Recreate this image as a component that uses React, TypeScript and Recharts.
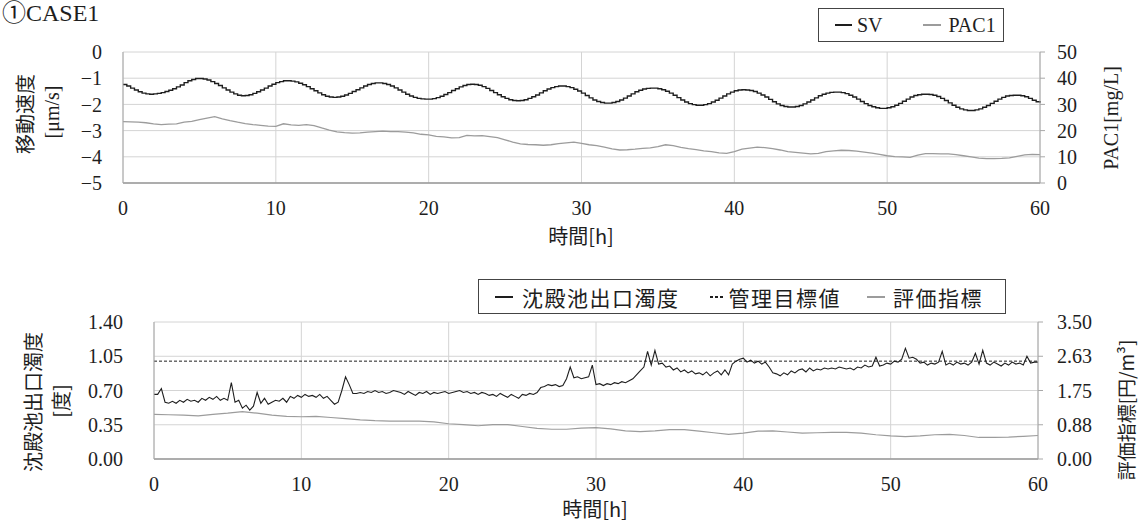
import { CartesianGrid, ComposedChart, Line, ReferenceLine, XAxis, YAxis } from 'recharts';

// time axis (h)
const hourTicks = [0, 10, 20, 30, 40, 50, 60];

// ①CASE1 upper chart
const svTicks = [-5, -4, -3, -2, -1, 0];
const pacTicks = [0, 10, 20, 30, 40, 50];
const svStep = 0.25;
const sv = [
  -1.24, -1.30, -1.38, -1.45, -1.52, -1.57, -1.60, -1.61, -1.60, -1.58, -1.55, -1.51,
  -1.46, -1.40, -1.33, -1.26, -1.17, -1.10, -1.05, -1.01, -1.01, -1.03, -1.07, -1.13,
  -1.20, -1.28, -1.37, -1.45, -1.53, -1.60, -1.65, -1.67, -1.66, -1.63, -1.58, -1.52,
  -1.45, -1.38, -1.30, -1.23, -1.17, -1.13, -1.10, -1.10, -1.11, -1.14, -1.19, -1.25,
  -1.32, -1.40, -1.48, -1.56, -1.63, -1.69, -1.72, -1.73, -1.72, -1.69, -1.64, -1.58,
  -1.51, -1.44, -1.37, -1.30, -1.24, -1.20, -1.18, -1.18, -1.20, -1.24, -1.30, -1.37,
  -1.45, -1.53, -1.61, -1.68, -1.73, -1.77, -1.79, -1.80, -1.80, -1.78, -1.74, -1.69,
  -1.62, -1.55, -1.47, -1.40, -1.33, -1.28, -1.24, -1.23, -1.24, -1.27, -1.32, -1.39,
  -1.47, -1.55, -1.63, -1.71, -1.77, -1.82, -1.85, -1.86, -1.85, -1.82, -1.77, -1.71,
  -1.64, -1.56, -1.48, -1.41, -1.36, -1.32, -1.30, -1.30, -1.32, -1.36, -1.42, -1.49,
  -1.57, -1.66, -1.75, -1.83, -1.89, -1.93, -1.95, -1.95, -1.93, -1.89, -1.83, -1.76,
  -1.68, -1.60, -1.52, -1.46, -1.41, -1.39, -1.38, -1.38, -1.40, -1.44, -1.50, -1.57,
  -1.65, -1.74, -1.83, -1.91, -1.97, -2.01, -2.03, -2.03, -2.01, -1.97, -1.91, -1.84,
  -1.76, -1.68, -1.60, -1.53, -1.48, -1.45, -1.44, -1.45, -1.47, -1.51, -1.57, -1.64,
  -1.72, -1.81, -1.90, -1.98, -2.04, -2.08, -2.10, -2.10, -2.08, -2.04, -1.98, -1.91,
  -1.83, -1.75, -1.67, -1.61, -1.57, -1.54, -1.53, -1.53, -1.55, -1.59, -1.65, -1.72,
  -1.80, -1.89, -1.97, -2.04, -2.09, -2.13, -2.15, -2.15, -2.13, -2.09, -2.03, -1.96,
  -1.88, -1.80, -1.72, -1.66, -1.63, -1.61, -1.61, -1.62, -1.65, -1.70, -1.77, -1.85,
  -1.94, -2.03, -2.11, -2.17, -2.21, -2.23, -2.23, -2.21, -2.17, -2.11, -2.04, -1.96,
  -1.88, -1.80, -1.73, -1.68, -1.66, -1.65, -1.65, -1.67, -1.71, -1.77, -1.84, -1.90,
  -1.94,
];
const pacStep = 0.5;
const pac1 = [
  23.4, 23.3, 23.2, 23.0, 22.6, 22.3, 22.5, 22.6, 23.2, 23.5, 24.2, 24.8, 25.3, 24.5, 23.8, 23.2,
  22.7, 22.3, 22.0, 21.7, 21.6, 22.6, 22.2, 22.0, 22.3, 21.9, 21.0, 20.2, 19.5, 19.2, 19.0, 19.1,
  19.4, 19.6, 19.8, 19.6, 19.6, 19.4, 19.1, 18.6, 18.4, 17.8, 17.6, 17.2, 17.3, 18.2, 18.0, 18.1,
  17.7, 17.3, 16.5, 15.6, 14.9, 14.7, 14.6, 14.4, 14.6, 15.0, 15.3, 15.6, 15.1, 14.6, 14.3, 13.7,
  13.0, 12.6, 12.7, 12.9, 13.2, 13.4, 13.9, 14.6, 14.3, 13.6, 13.1, 12.7, 12.3, 12.0, 11.5, 11.3,
  12.0, 12.9, 13.3, 13.7, 13.5, 13.1, 12.6, 12.0, 11.7, 11.4, 11.1, 11.3, 12.0, 12.3, 12.5, 12.4,
  12.2, 11.8, 11.4, 10.9, 10.4, 10.1, 10.0, 9.8, 10.6, 11.2, 11.2, 11.1, 11.1, 10.8, 10.4, 10.0,
  9.5, 9.3, 9.3, 9.4, 9.6, 10.2, 10.7, 10.9, 10.8,
];

// lower chart
const turbTicks = [0, 0.35, 0.7, 1.05, 1.4];
const indexTicks = [0, 0.875, 1.75, 2.625, 3.5];
const targetTurbidity = 1.0;
const turbStep = 0.25;
const turbidity = [
  0.66, 0.66, 0.72, 0.58, 0.57, 0.59, 0.57, 0.60, 0.58, 0.61, 0.59, 0.60,
  0.58, 0.62, 0.60, 0.63, 0.61, 0.64, 0.60, 0.62, 0.60, 0.78, 0.58, 0.60,
  0.52, 0.55, 0.50, 0.54, 0.68, 0.57, 0.62, 0.56, 0.58, 0.60, 0.59, 0.62,
  0.58, 0.64, 0.62, 0.65, 0.63, 0.66, 0.64, 0.65, 0.63, 0.66, 0.62, 0.64,
  0.60, 0.56, 0.58, 0.70, 0.84, 0.76, 0.67, 0.67, 0.68, 0.67, 0.69, 0.68,
  0.70, 0.68, 0.69, 0.67, 0.68, 0.70, 0.69, 0.68, 0.66, 0.69, 0.67, 0.65,
  0.68, 0.67, 0.69, 0.66, 0.68, 0.67, 0.68, 0.69, 0.67, 0.68, 0.69, 0.70,
  0.68, 0.69, 0.67, 0.68, 0.66, 0.68, 0.67, 0.65, 0.66, 0.64, 0.67, 0.65,
  0.63, 0.66, 0.64, 0.62, 0.66, 0.65, 0.67, 0.66, 0.68, 0.73, 0.74, 0.76,
  0.75, 0.76, 0.74, 0.75, 0.82, 0.94, 0.83, 0.84, 0.82, 0.83, 0.84, 0.96,
  0.76, 0.77, 0.75, 0.77, 0.76, 0.78, 0.77, 0.79, 0.78, 0.80, 0.82, 0.86,
  0.90, 0.94, 1.10, 0.96, 1.11, 0.97, 0.98, 0.94, 0.95, 0.91, 0.93, 0.89,
  0.91, 0.88, 0.90, 0.87, 0.88, 0.86, 0.89, 0.85, 0.88, 0.90, 0.86, 0.91,
  0.86, 0.97, 1.00, 1.02, 1.03, 0.99, 1.01, 0.98, 1.00, 0.97, 0.99, 0.94,
  0.88, 0.87, 0.85, 0.88, 0.86, 0.90, 0.88, 0.91, 0.92, 0.89, 0.93, 0.90,
  0.92, 0.91, 0.93, 0.92, 0.93, 0.92, 0.94, 0.93, 0.92, 0.93, 0.91, 0.94,
  0.93, 0.96, 0.94, 0.95, 1.04, 0.95, 0.96, 0.98, 0.97, 1.00, 0.99, 1.02,
  1.13, 1.03, 1.04, 1.02, 0.98, 0.99, 0.96, 0.98, 0.97, 0.99, 1.10, 0.96,
  0.98, 0.96, 0.99, 0.97, 0.98, 0.96, 0.99, 1.08, 0.97, 1.11, 0.98, 0.96,
  0.99, 0.97, 0.95, 0.98, 0.96, 0.99, 0.97, 0.98, 0.96, 1.05, 0.98, 0.99,
  0.99,
];
const indexStep = 1;
const evalIndex = [
  1.14, 1.13, 1.12, 1.10, 1.14, 1.17, 1.21, 1.17, 1.12, 1.09, 1.08, 1.09, 1.06, 1.03, 1.00, 0.98,
  0.97, 0.97, 0.97, 0.95, 0.90, 0.88, 0.85, 0.88, 0.88, 0.83, 0.78, 0.76, 0.76, 0.79, 0.80, 0.77,
  0.72, 0.70, 0.72, 0.75, 0.75, 0.71, 0.67, 0.63, 0.66, 0.71, 0.72, 0.69, 0.66, 0.67, 0.68, 0.68,
  0.66, 0.62, 0.59, 0.57, 0.59, 0.62, 0.63, 0.60, 0.55, 0.55, 0.56, 0.58, 0.60,
];

const toSeries = (values: number[], step: number) => values.map((v, i) => ({ t: i * step, v }));

const FONT = '"Liberation Serif", "Noto Sans CJK JP", serif';
const JP = '"Noto Sans CJK JP", sans-serif';
const tickStyle = { fontSize: 20, fill: '#1e1e1e', fontFamily: FONT };
const GRID = '#d4d4d4';
const AXIS = '#a8a8a8';
const BLACK = '#1e1e1e';
const GRAY = '#9c9c9c';

const minus = (v: number) => (v < 0 ? `\u2212${-v}` : `${v}`);
const fixed2 = (v: number) => v.toFixed(2);

function AxisTitle({ x, y, text, rotate = false, size = 20, font = JP }: { x: number; y: number; text: string; rotate?: boolean; size?: number; font?: string }) {
  return (
    <div
      style={{
        position: 'absolute',
        left: x,
        top: y,
        transform: `translate(-50%, -50%)${rotate ? ' rotate(-90deg)' : ''}`,
        whiteSpace: 'nowrap',
        fontSize: size,
        lineHeight: 1,
        fontFamily: font,
        color: BLACK,
      }}
    >
      {text}
    </div>
  );
}

function Swatch({ color, dashed = false, width = 18 }: { color: string; dashed?: boolean; width?: number }) {
  return (
    <svg width={width} height={4} style={{ display: 'block' }}>
      <line x1={0} y1={2} x2={width} y2={2} stroke={color} strokeWidth={2} strokeDasharray={dashed ? '3 2' : undefined} />
    </svg>
  );
}

export default function App() {
  const svData = toSeries(sv, svStep);
  const pacData = toSeries(pac1, pacStep);
  const turbData = toSeries(turbidity, turbStep);
  const indexData = toSeries(evalIndex, indexStep);

  return (
    <div style={{ position: 'fixed', left: 0, top: 0, width: 1139, height: 524, background: '#fff', overflow: 'hidden', fontFamily: FONT }}>
      <div style={{ position: 'absolute', left: 2, top: 1, fontSize: 24, lineHeight: '24px', color: BLACK, fontFamily: FONT }}>①CASE1</div>

      {/* upper chart */}
      <div style={{ position: 'absolute', left: 0, top: 0 }}>
        <ComposedChart width={1139} height={250} margin={{ top: 52, right: 0, bottom: 27, left: 0 }}>
          <CartesianGrid yAxisId="sv" stroke={GRID} />
          <XAxis
            type="number"
            dataKey="t"
            domain={[0, 60]}
            ticks={hourTicks}
            interval={0}
            height={40}
            tickSize={0}
            tickMargin={18}
            tick={tickStyle}
            axisLine={{ stroke: '#999', strokeWidth: 1.5 }}
          />
          <YAxis
            yAxisId="sv"
            type="number"
            domain={[-5, 0]}
            ticks={svTicks}
            interval={0}
            width={123}
            tickSize={0}
            tickMargin={21}
            tick={tickStyle}
            tickFormatter={minus}
            axisLine={{ stroke: AXIS }}
          />
          <YAxis
            yAxisId="pac"
            orientation="right"
            type="number"
            domain={[0, 50]}
            ticks={pacTicks}
            interval={0}
            width={99}
            tickSize={5}
            tickMargin={12}
            tick={tickStyle}
            tickLine={{ stroke: AXIS }}
            axisLine={{ stroke: AXIS }}
          />
          <Line
            yAxisId="pac"
            data={pacData}
            dataKey="v"
            type="linear"
            stroke={GRAY}
            strokeWidth={1.3}
            dot={false}
            activeDot={false}
            isAnimationActive={false}
          />
          <Line
            yAxisId="sv"
            data={svData}
            dataKey="v"
            type="stepAfter"
            stroke={BLACK}
            strokeWidth={1.4}
            dot={false}
            activeDot={false}
            isAnimationActive={false}
          />
        </ComposedChart>
      </div>

      {/* lower chart */}
      <div style={{ position: 'absolute', left: 0, top: 260 }}>
        <ComposedChart width={1139} height={264} margin={{ top: 62, right: 0, bottom: 25, left: 0 }}>
          <CartesianGrid yAxisId="turb" stroke={GRID} />
          <XAxis
            type="number"
            dataKey="t"
            domain={[0, 60]}
            ticks={hourTicks}
            interval={0}
            height={40}
            tickSize={0}
            tickMargin={18}
            tick={tickStyle}
            axisLine={{ stroke: '#999', strokeWidth: 1.5 }}
          />
          <YAxis
            yAxisId="turb"
            type="number"
            domain={[0, 1.4]}
            ticks={turbTicks}
            interval={0}
            width={154}
            tickSize={0}
            tickMargin={31}
            tick={tickStyle}
            tickFormatter={fixed2}
            axisLine={{ stroke: AXIS }}
          />
          <YAxis
            yAxisId="index"
            orientation="right"
            type="number"
            domain={[0, 3.5]}
            ticks={indexTicks}
            interval={0}
            width={101}
            tickSize={5}
            tickMargin={14}
            tick={tickStyle}
            tickFormatter={fixed2}
            tickLine={{ stroke: AXIS }}
            axisLine={{ stroke: AXIS }}
          />
          <ReferenceLine yAxisId="turb" y={targetTurbidity} stroke={BLACK} strokeWidth={1} strokeDasharray="3 2" />
          <Line
            yAxisId="index"
            data={indexData}
            dataKey="v"
            type="linear"
            stroke={GRAY}
            strokeWidth={1.2}
            dot={false}
            activeDot={false}
            isAnimationActive={false}
          />
          <Line
            yAxisId="turb"
            data={turbData}
            dataKey="v"
            type="linear"
            stroke={BLACK}
            strokeWidth={1.1}
            dot={false}
            activeDot={false}
            isAnimationActive={false}
          />
        </ComposedChart>
      </div>

      {/* axis titles */}
      <AxisTitle x={25} y={114} text="移動速度" rotate />
      <AxisTitle x={52} y={112} text="[μm/s]" rotate font={FONT} />
      <AxisTitle x={1111} y={118} text="PAC1[mg/L]" rotate font={FONT} />
      <AxisTitle x={581} y={236} text="時間[h]" />
      <AxisTitle x={33} y={402} text="沈殿池出口濁度" rotate />
      <AxisTitle x={61} y={401} text="[度]" rotate />
      <AxisTitle x={1125} y={410} text="評価指標[円/m³]" rotate size={19} />
      <AxisTitle x={595} y={509} text="時間[h]" />

      {/* legends */}
      <div
        style={{
          position: 'absolute', left: 818, top: 8, width: 186, height: 34, border: '1px solid #444',
          display: 'flex', alignItems: 'center', fontSize: 20, color: BLACK, fontFamily: FONT, boxSizing: 'border-box',
        }}
      >
        <div style={{ marginLeft: 16 }}><Swatch color={BLACK} width={17} /></div>
        <span style={{ marginLeft: 5 }}>SV</span>
        <div style={{ marginLeft: 40 }}><Swatch color={GRAY} width={18} /></div>
        <span style={{ marginLeft: 8 }}>PAC1</span>
      </div>
      <div
        style={{
          position: 'absolute', left: 478, top: 279, width: 528, height: 35, border: '1px solid #444',
          display: 'flex', alignItems: 'center', fontSize: 21, color: BLACK, fontFamily: JP, boxSizing: 'border-box',
          letterSpacing: 1.5,
        }}
      >
        <div style={{ marginLeft: 16 }}><Swatch color={BLACK} width={18} /></div>
        <span style={{ marginLeft: 9 }}>沈殿池出口濁度</span>
        <div style={{ marginLeft: 30 }}><Swatch color={BLACK} dashed width={14} /></div>
        <span style={{ marginLeft: 5 }}>管理目標値</span>
        <div style={{ marginLeft: 26 }}><Swatch color={GRAY} width={18} /></div>
        <span style={{ marginLeft: 8 }}>評価指標</span>
      </div>
    </div>
  );
}
